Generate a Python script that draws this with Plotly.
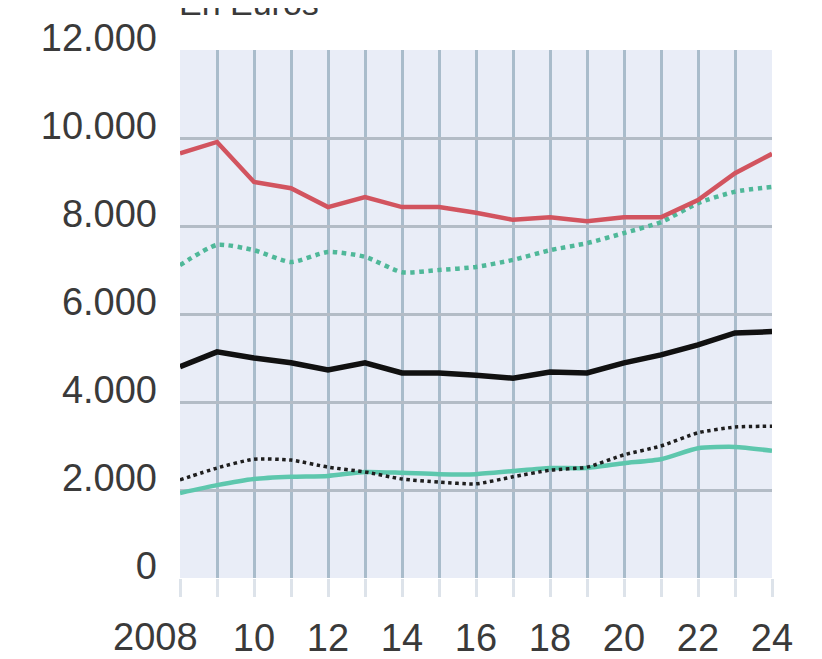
import plotly.graph_objects as go

years = list(range(2008, 2025))
red_solid = [9650, 9910, 9000, 8860, 8430, 8660, 8430, 8430, 8300, 8140, 8200, 8110, 8200, 8200, 8590, 9200, 9640]
teal_dotted = [7110, 7570, 7450, 7180, 7410, 7300, 6950, 7000, 7070, 7230, 7450, 7610, 7840, 8090, 8520, 8780, 8890]
black_solid = [4800, 5140, 5000, 4890, 4730, 4890, 4660, 4660, 4610, 4540, 4680, 4660, 4890, 5070, 5300, 5570, 5600]
black_dotted = [2230, 2500, 2700, 2680, 2520, 2410, 2250, 2180, 2140, 2300, 2450, 2520, 2800, 3000, 3300, 3430, 3450]
teal_solid = [1930, 2110, 2250, 2300, 2320, 2410, 2390, 2360, 2360, 2430, 2500, 2500, 2610, 2700, 2950, 2980, 2890]

y_ticks = [0, 2000, 4000, 6000, 8000, 10000, 12000]
y_labels = ["0", "2.000", "4.000", "6.000", "8.000", "10.000", "12.000"]
x_tickvals = years
x_ticktext = ["" if (y % 2 == 1 or y == 2008) else str(y)[2:] for y in years]
title_text = "En Euros"

FONT = "Liberation Sans, Arial, sans-serif"
GRID = "#a9bccb"
TXT = "#3a3a3a"
FS = 38

fig = go.Figure()
fig.add_trace(go.Scatter(x=years, y=teal_solid, mode="lines",
                         line=dict(color="#5dc7ad", width=4.5, shape="spline", smoothing=0.6)))
fig.add_trace(go.Scatter(x=years, y=black_dotted, mode="lines",
                         line=dict(color="#1e1e1e", width=3.5, dash="dot", shape="spline", smoothing=0.6)))
fig.add_trace(go.Scatter(x=years, y=black_solid, mode="lines",
                         line=dict(color="#111111", width=5.5)))
fig.add_trace(go.Scatter(x=years, y=teal_dotted, mode="lines",
                         line=dict(color="#4fb899", width=4.5, dash="dot", shape="spline", smoothing=0.6)))
fig.add_trace(go.Scatter(x=years, y=red_solid, mode="lines",
                         line=dict(color="#d2545f", width=4.5)))

fig.update_layout(
    width=814, height=651,
    margin=dict(l=172, r=50, t=42, b=81, autoexpand=False),
    paper_bgcolor="white",
    plot_bgcolor="#e9edf7",
    showlegend=False,
    font=dict(family=FONT, size=FS, color=TXT),
)
fig.update_xaxes(
    range=[2008, 2024], tickvals=x_tickvals, ticktext=x_ticktext,
    showgrid=True, gridcolor=GRID, gridwidth=3,
    ticks="outside", ticklen=18, tickwidth=3, tickcolor="#dde3ea",
    ticklabelstandoff=8, automargin=False,
    zeroline=False, showline=False,
    tickfont=dict(family=FONT, size=FS, color=TXT),
)
fig.update_yaxes(
    range=[0, 12000], tickvals=y_ticks, ticktext=y_labels,
    showgrid=True, gridcolor="#b3bcc6", gridwidth=2.5,
    ticks="", ticklabelstandoff=22, ticklabelshift=-12, automargin=False,
    zeroline=False, showline=False,
    tickfont=dict(family=FONT, size=FS, color=TXT),
)
fig.add_annotation(x=2008, y=0, xref="x", yref="y", text="2008", showarrow=False,
                   xanchor="right", yanchor="middle", xshift=20, yshift=-59,
                   font=dict(family=FONT, size=FS, color=TXT))
fig.add_annotation(x=0, y=1, xref="paper", yref="paper", text=title_text, showarrow=False,
                   xanchor="left", yanchor="middle", xshift=-3, yshift=47,
                   font=dict(family=FONT, size=34, color=TXT))

fig.write_html("out.html")
